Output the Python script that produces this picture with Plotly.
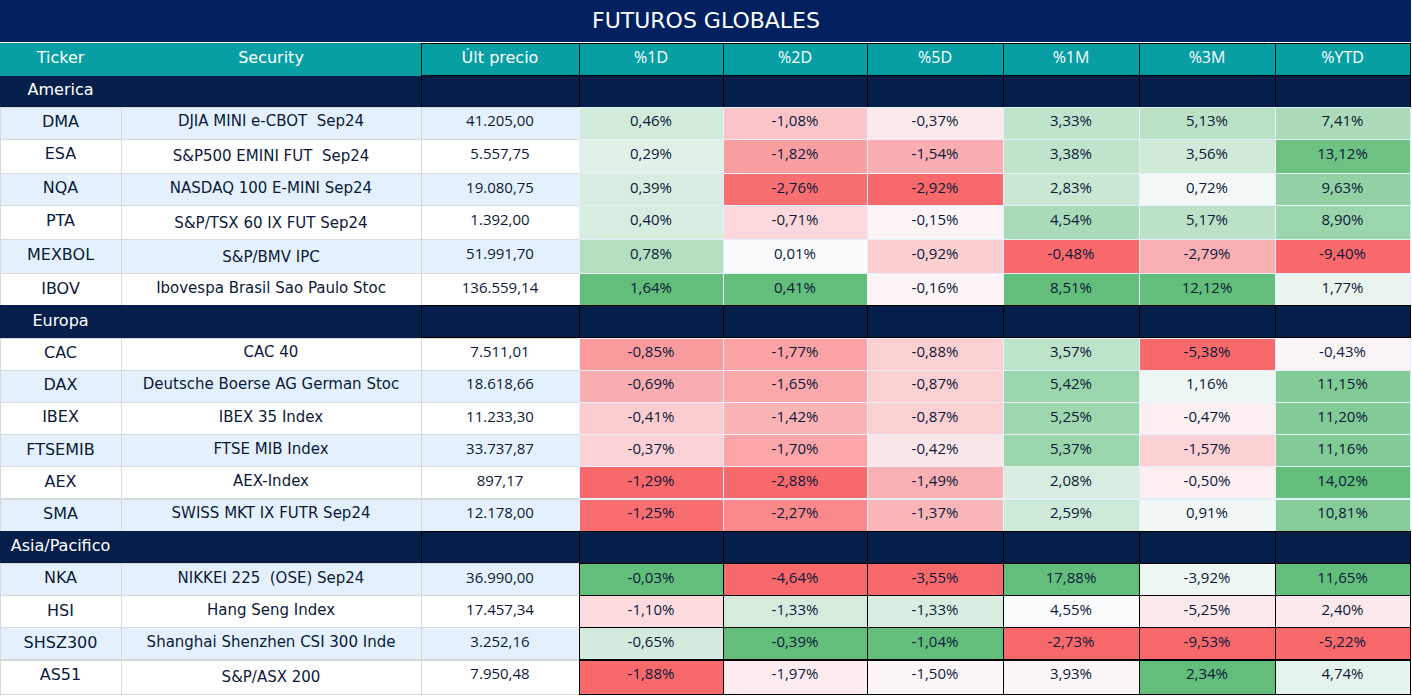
import plotly.graph_objects as go
import statistics

# ---------------- data ----------------
title = "FUTUROS GLOBALES"
headers = ["Ticker", "Security", "Últ precio", "%1D", "%2D", "%5D", "%1M", "%3M", "%YTD"]

groups = ["America", "Europa", "Asia/Pacifico"]

america_tickers = ["DMA", "ESA", "NQA", "PTA", "MEXBOL", "IBOV"]
america_names = ["DJIA MINI e-CBOT\u00a0 Sep24", "S&P500 EMINI FUT\u00a0 Sep24", "NASDAQ 100 E-MINI Sep24",
                 "S&P/TSX 60 IX FUT Sep24", "S&P/BMV IPC", "Ibovespa Brasil Sao Paulo Stoc"]
america_price = [41205.00, 5557.75, 19080.75, 1392.00, 51991.70, 136559.14]
america_1d = [0.46, 0.29, 0.39, 0.40, 0.78, 1.64]
america_2d = [-1.08, -1.82, -2.76, -0.71, 0.01, 0.41]
america_5d = [-0.37, -1.54, -2.92, -0.15, -0.92, -0.16]
america_1m = [3.33, 3.38, 2.83, 4.54, -0.48, 8.51]
america_3m = [5.13, 3.56, 0.72, 5.17, -2.79, 12.12]
america_ytd = [7.41, 13.12, 9.63, 8.90, -9.40, 1.77]

europa_tickers = ["CAC", "DAX", "IBEX", "FTSEMIB", "AEX", "SMA"]
europa_names = ["CAC 40", "Deutsche Boerse AG German Stoc", "IBEX 35 Index", "FTSE MIB Index",
                "AEX-Index", "SWISS MKT IX FUTR Sep24"]
europa_price = [7511.01, 18618.66, 11233.30, 33737.87, 897.17, 12178.00]
europa_1d = [-0.85, -0.69, -0.41, -0.37, -1.29, -1.25]
europa_2d = [-1.77, -1.65, -1.42, -1.70, -2.88, -2.27]
europa_5d = [-0.88, -0.87, -0.87, -0.42, -1.49, -1.37]
europa_1m = [3.57, 5.42, 5.25, 5.37, 2.08, 2.59]
europa_3m = [-5.38, 1.16, -0.47, -1.57, -0.50, 0.91]
europa_ytd = [-0.43, 11.15, 11.20, 11.16, 14.02, 10.81]

asia_tickers = ["NKA", "HSI", "SHSZ300", "AS51"]
asia_names = ["NIKKEI 225\u00a0 (OSE) Sep24", "Hang Seng Index", "Shanghai Shenzhen CSI 300 Inde", "S&P/ASX 200"]
asia_price = [36990.00, 17457.34, 3252.16, 7950.48]
asia_1d = [-0.03, -1.10, -0.65, -1.88]
asia_2d = [-4.64, -1.33, -0.39, -1.97]
asia_5d = [-3.55, -1.33, -1.04, -1.50]
asia_1m = [17.88, 4.55, -2.73, 3.93]
asia_3m = [-3.92, -5.25, -9.53, 2.34]
asia_ytd = [11.65, 2.40, -5.22, 4.74]

# ---------------- styles ----------------
NAVY_TITLE = "#002060"
NAVY_GROUP = "#061F4A"
TEAL = "#079FA4"
LIGHT = "#E4F1FC"
WHITE = "#FFFFFF"
TXT = "#0B1A3A"
FONT_TXT = "DejaVu Sans"
FONT_NUM = "Open Sans"
RED = (248, 105, 107)
MIDC = (252, 252, 255)
GREEN = (99, 190, 123)


def blend(c1, c2, t):
    t = max(0.0, min(1.0, t))
    return "rgb({},{},{})".format(*[round(a + (b - a) * t) for a, b in zip(c1, c2)])


def scale_colors(vals, mid):
    lo, hi = min(vals), max(vals)
    out = []
    for v in vals:
        if v >= mid:
            t = (v - mid) / (hi - mid) if hi > mid else 0
            out.append(blend(MIDC, GREEN, t))
        else:
            t = (mid - v) / (mid - lo) if lo < mid else 0
            out.append(blend(MIDC, RED, t))
    return out


def fmt_pct(v):
    return f"{v:.2f}".replace(".", ",") + "%"


def fmt_price(v):
    s = f"{v:,.2f}"
    return s.replace(",", "X").replace(".", ",").replace("X", ".")


def esc(s):
    return s.replace("&", "&amp;")


am_cols = [america_1d, america_2d, america_5d, america_1m, america_3m, america_ytd]
eu_cols = [europa_1d, europa_2d, europa_5d, europa_1m, europa_3m, europa_ytd]
as_cols = [asia_1d, asia_2d, asia_5d, asia_1m, asia_3m, asia_ytd]

# colour scales: America+Europa share a scale with midpoint 0; Asia uses median midpoint
ae_colors = []
as_colors = []
for a, e, s in zip(am_cols, eu_cols, as_cols):
    c = scale_colors(a + e, 0.0)
    ae_colors.append((c[:len(a)], c[len(a):]))
    as_colors.append(scale_colors(s, statistics.median(s)))

cols = [[] for _ in range(9)]
fills = [[] for _ in range(9)]
lines = [[] for _ in range(9)]


def add_group(name):
    for j in range(9):
        cols[j].append(name if j == 0 else "")
        fills[j].append(NAVY_GROUP)
        lines[j].append(NAVY_GROUP if j in (0, 1) else "#000000")


def add_rows(tickers, names, prices, pcols, pcolors, shade_first, pct_line):
    for i in range(len(tickers)):
        shade = LIGHT if (i % 2 == 0) == shade_first else WHITE
        cols[0].append(tickers[i]); fills[0].append(shade); lines[0].append("#D9D9D9")
        cols[1].append(esc(names[i])); fills[1].append(shade); lines[1].append("#D9D9D9")
        cols[2].append(fmt_price(prices[i])); fills[2].append(shade); lines[2].append("#D9D9D9")
        for k in range(6):
            cols[3 + k].append(fmt_pct(pcols[k][i]))
            fills[3 + k].append(pcolors[k][i])
            lines[3 + k].append(pct_line)


add_group(groups[0])
add_rows(america_tickers, america_names, america_price, am_cols, [c[0] for c in ae_colors], True, "#E4F1FC")
add_group(groups[1])
add_rows(europa_tickers, europa_names, europa_price, eu_cols, [c[1] for c in ae_colors], False, "#E4F1FC")
add_group(groups[2])
add_rows(asia_tickers, asia_names, asia_price, as_cols, as_colors, True, "#000000")

font_colors = []
for j in range(9):
    font_colors.append([WHITE if f == NAVY_GROUP else TXT for f in fills[j]])

W, H = 1412, 697
title_h = 41
head_h = 32
row_h = 32.2
widths = [121, 300, 158, 144, 144, 136, 136, 136, 135]

fig = go.Figure()

# title band
fig.add_trace(go.Table(
    domain=dict(x=[0, 1410 / W], y=[1 - (title_h + 2) / H, 1]),
    columnwidth=[1],
    header=dict(values=[""], fill_color=NAVY_TITLE, line=dict(color=NAVY_TITLE, width=1),
                height=title_h, align="center",
                font=dict(family=FONT_TXT, size=22, color=WHITE)),
    cells=dict(values=[[]], height=1),
))

fig.add_trace(go.Table(
    domain=dict(x=[0, 1410 / W], y=[0, 1 - (title_h + 2) / H]),
    columnwidth=widths,
    header=dict(values=headers, fill_color=TEAL,
                line=dict(color=[TEAL, TEAL] + ["#000000"] * 7, width=1),
                height=head_h, align="center",
                font=dict(family=[FONT_TXT] * 3 + [FONT_NUM] * 6, size=16, color=WHITE)),
    cells=dict(values=cols, fill_color=fills,
               line=dict(color=lines, width=1),
               height=row_h, align="center",
               font=dict(family=[FONT_TXT, FONT_TXT] + [FONT_NUM] * 7,
                         size=[16, 15] + [15] * 7, color=font_colors)),
))

fig.add_annotation(text=title, xref="paper", yref="paper", x=0.5, y=1 - 20.5 / H,
                   xanchor="center", yanchor="middle", showarrow=False,
                   font=dict(family=FONT_TXT, size=22, color=WHITE))

fig.update_layout(width=W, height=H, margin=dict(l=0, r=0, t=0, b=0),
                  paper_bgcolor=WHITE, plot_bgcolor=WHITE)

fig.write_html("out.html", config={"displayModeBar": False},
               post_script="document.body.style.margin='0';")
